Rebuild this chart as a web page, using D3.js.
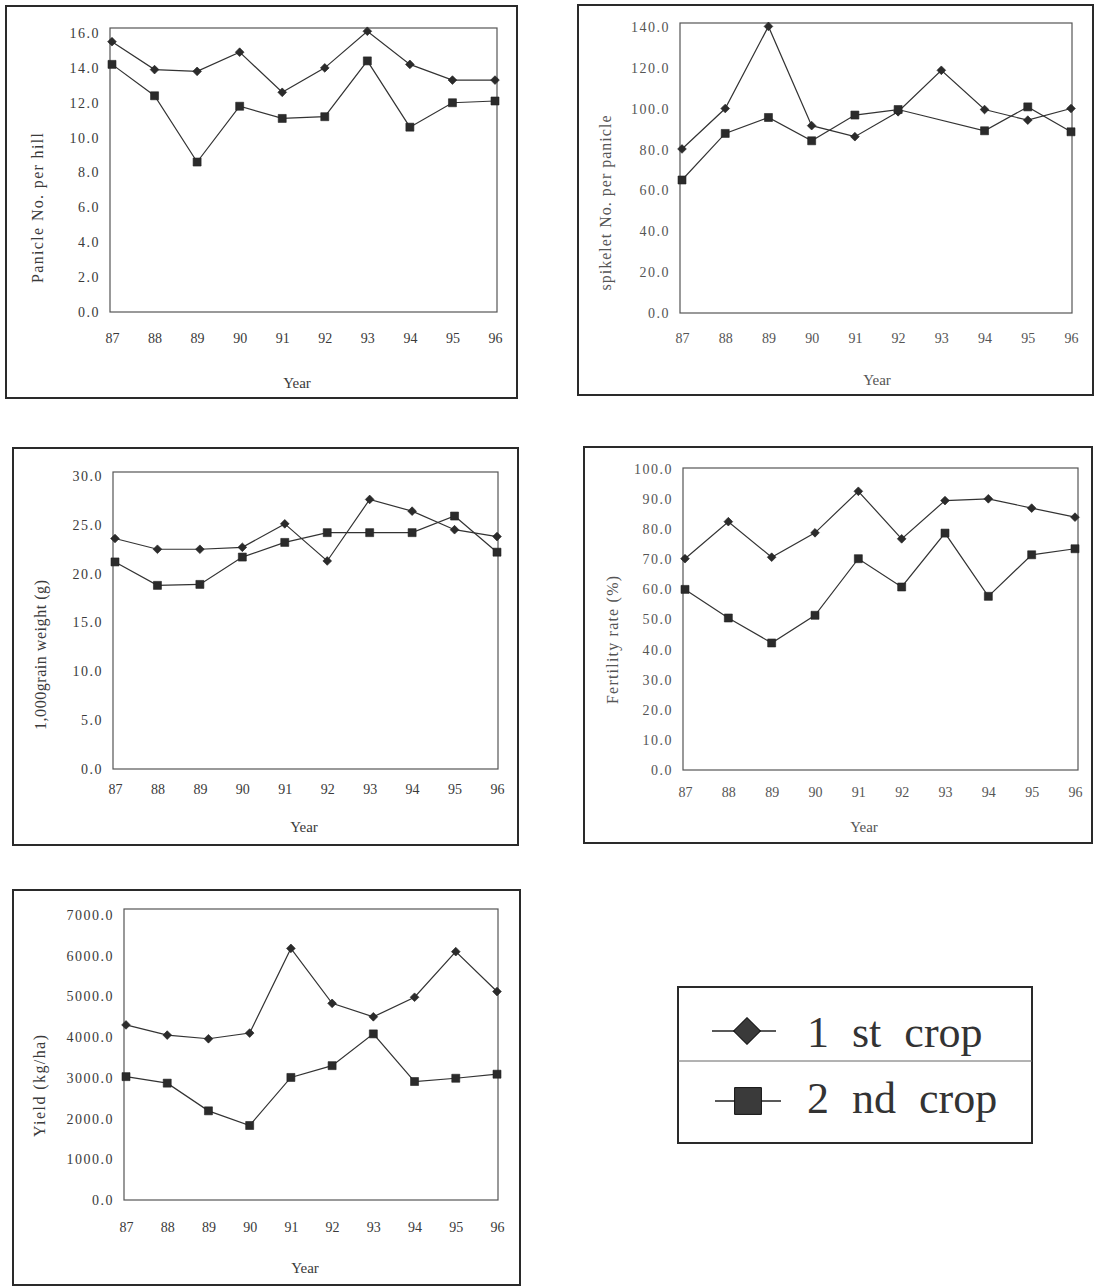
<!DOCTYPE html>
<html>
<head>
<meta charset="utf-8">
<script src="https://cdn.jsdelivr.net/npm/d3@7"></script>
<style>
  body { margin: 0; background: #fff; }
  text { font-family: "Liberation Serif", "DejaVu Serif", serif; }
</style>
</head>
<body>
<svg id="fig" width="1096" height="1287"></svg>
<script>
// years on every x axis
const years = ["87", "88", "89", "90", "91", "92", "93", "94", "95", "96"];
const seriesNames = ["1 st crop", "2 nd crop"];

// panicle No. per hill
const panicle1 = [15.5, 13.9, 13.8, 14.9, 12.6, 14.0, 16.1, 14.2, 13.3, 13.3];
const panicle2 = [14.2, 12.4, 8.6, 11.8, 11.1, 11.2, 14.4, 10.6, 12.0, 12.1];
const panicleTicks = [0, 2, 4, 6, 8, 10, 12, 14, 16];

// spikelet No. per panicle (no 2nd crop marker at 93)
const spikelet1 = [80.3, 100.1, 140.3, 91.7, 86.3, 98.5, 118.8, 99.6, 94.4, 100.1];
const spikelet2 = [65.1, 87.9, 95.7, 84.3, 96.9, 99.6, null, 89.2, 100.9, 88.7];
const spikeletTicks = [0, 20, 40, 60, 80, 100, 120, 140];

// 1,000 grain weight
const grain1 = [23.6, 22.5, 22.5, 22.7, 25.1, 21.3, 27.6, 26.4, 24.5, 23.8];
const grain2 = [21.2, 18.8, 18.9, 21.7, 23.2, 24.2, 24.2, 24.2, 25.9, 22.2];
const grainTicks = [0, 5, 10, 15, 20, 25, 30];

// fertility rate
const fert1 = [70.2, 82.5, 70.7, 78.8, 92.6, 76.8, 89.5, 90.1, 87.0, 84.0];
const fert2 = [60.0, 50.5, 42.2, 51.4, 70.2, 60.8, 78.7, 57.7, 71.5, 73.5];
const fertTicks = [0, 10, 20, 30, 40, 50, 60, 70, 80, 90, 100];

// yield
const yield1 = [4300, 4050, 3960, 4100, 6180, 4830, 4500, 4980, 6100, 5120];
const yield2 = [3030, 2870, 2190, 1830, 3010, 3300, 4080, 2910, 2990, 3090];
const yieldTicks = [0, 1000, 2000, 3000, 4000, 5000, 6000, 7000];

// layout for each small chart
const panels = [
  { s1: panicle1, s2: panicle2, ticks: panicleTicks, title: "Panicle No.  per hill",
    frame: [6, 6, 517, 398], boxTop: 28, boxRight: 497, xr: [112, 495], yr: [312, 33],
    tickY: 338, yearPos: [297, 383], titlePos: [37, 208], titleLen: 150, ink: "#3a3a3a" },
  { s1: spikelet1, s2: spikelet2, ticks: spikeletTicks, title: "spikelet No. per panicle",
    frame: [578, 5, 1093, 395], boxTop: 23, boxRight: 1072, xr: [682, 1071], yr: [313, 27],
    tickY: 338, yearPos: [877, 380], titlePos: [605, 203], titleLen: 175, ink: "#555" },
  { s1: grain1, s2: grain2, ticks: grainTicks, title: "1,000grain weight (g)",
    frame: [13, 448, 518, 845], boxTop: 472, boxRight: 498, xr: [115, 497], yr: [769, 476],
    tickY: 789, yearPos: [304, 827], titlePos: [40, 655], titleLen: 150, ink: "#3a3a3a" },
  { s1: fert1, s2: fert2, ticks: fertTicks, title: "Fertility rate (%)",
    frame: [584, 447, 1092, 843], boxTop: 468, boxRight: 1078, xr: [685, 1075], yr: [770, 469],
    tickY: 792, yearPos: [864, 827], titlePos: [612, 640], titleLen: 128, ink: "#555" },
  { s1: yield1, s2: yield2, ticks: yieldTicks, title: "Yield (kg/ha)",
    frame: [13, 890, 520, 1285], boxTop: 909, boxRight: 498, xr: [126, 497], yr: [1200, 915],
    tickY: 1227, yearPos: [305, 1268], titlePos: [39, 1086], titleLen: 102, ink: "#3a3a3a" }
];

const svg = d3.select("#fig");
const diamond = d3.symbol().type(d3.symbolSquare).size(38);
const square = d3.symbol().type(d3.symbolSquare).size(64);

function drawPanel(p) {
  const g = svg.append("g");

  g.append("rect")
    .attr("x", p.frame[0]).attr("y", p.frame[1])
    .attr("width", p.frame[2] - p.frame[0]).attr("height", p.frame[3] - p.frame[1])
    .attr("fill", "none").attr("stroke", "#2a2a2a").attr("stroke-width", 2);

  const x = d3.scalePoint().domain(years).range(p.xr);
  const y = d3.scaleLinear().domain([0, d3.max(p.ticks)]).range(p.yr);
  const boxLeft = p.xr[0] - 2;

  // plot area
  g.append("rect")
    .attr("x", boxLeft).attr("y", p.boxTop)
    .attr("width", p.boxRight - boxLeft).attr("height", y(0) - p.boxTop)
    .attr("fill", "none").attr("stroke", "#555").attr("stroke-width", 1.2);

  const yAxis = d3.axisLeft(y).tickValues(p.ticks).tickFormat(d3.format(".1f"))
    .tickSize(0).tickPadding(10);
  g.append("g").attr("transform", `translate(${boxLeft},0)`).call(yAxis)
    .call(s => s.select(".domain").remove())
    .selectAll("text")
    .attr("font-family", "Liberation Serif").attr("font-size", 14)
    .attr("letter-spacing", 1.5).attr("fill", p.ink);

  const xAxis = d3.axisBottom(x).tickSize(0);
  g.append("g").attr("transform", `translate(0,${y(0)})`).call(xAxis)
    .call(s => s.select(".domain").remove())
    .selectAll("text")
    .attr("y", p.tickY - y(0)).attr("dy", "0.35em")
    .attr("font-family", "Liberation Serif").attr("font-size", 14)
    .attr("fill", p.ink);

  g.append("text")
    .attr("x", p.yearPos[0]).attr("y", p.yearPos[1]).attr("dy", "0.35em")
    .attr("text-anchor", "middle").attr("font-size", 15).attr("fill", p.ink)
    .text("Year");

  g.append("text")
    .attr("transform", `translate(${p.titlePos[0]},${p.titlePos[1]}) rotate(-90)`)
    .attr("dy", "0.35em").attr("text-anchor", "middle")
    .attr("font-size", 16).attr("fill", p.ink)
    .attr("textLength", p.titleLen).attr("lengthAdjust", "spacing")
    .text(p.title);

  const line = d3.line().x(d => x(d.year)).y(d => y(d.v));
  [p.s1, p.s2].forEach((vals, k) => {
    const pts = years.map((yr, i) => ({ year: yr, v: vals[i] })).filter(d => d.v != null);
    g.append("path").attr("d", line(pts))
      .attr("fill", "none").attr("stroke", "#333").attr("stroke-width", 1.2);
    g.selectAll(null).data(pts).join("path")
      .attr("transform", d => `translate(${x(d.year)},${y(d.v)})` + (k === 0 ? " rotate(45)" : ""))
      .attr("d", k === 0 ? diamond : square)
      .attr("fill", "#2b2b2b").attr("stroke", "#222").attr("stroke-width", 0.6);
  });
}

panels.forEach(drawPanel);

// legend
const leg = svg.append("g");
leg.append("rect").attr("x", 678).attr("y", 987).attr("width", 354).attr("height", 156)
  .attr("fill", "none").attr("stroke", "#2a2a2a").attr("stroke-width", 2);
leg.append("line").attr("x1", 678).attr("x2", 1032).attr("y1", 1061).attr("y2", 1061)
  .attr("stroke", "#666").attr("stroke-width", 1);

const legRows = [
  { name: seriesNames[0], cy: 1031, x1: 712, x2: 776, cx: 747, sym: d3.symbol().type(d3.symbolSquare).size(360), rot: 45, base: 1047 },
  { name: seriesNames[1], cy: 1101, x1: 715, x2: 781, cx: 748, sym: d3.symbol().type(d3.symbolSquare).size(720), rot: 0, base: 1113 }
];
legRows.forEach(r => {
  leg.append("line").attr("x1", r.x1).attr("x2", r.x2).attr("y1", r.cy).attr("y2", r.cy)
    .attr("stroke", "#222").attr("stroke-width", 1.3);
  leg.append("path").attr("d", r.sym)
    .attr("transform", `translate(${r.cx},${r.cy}) rotate(${r.rot})`)
    .attr("fill", "#3a3a3a").attr("stroke", "#111").attr("stroke-width", 1);
  leg.append("text").attr("x", 807).attr("y", r.base)
    .attr("font-size", 44).attr("fill", "#333").attr("word-spacing", 12)
    .text(r.name);
});
</script>
</body>
</html>
